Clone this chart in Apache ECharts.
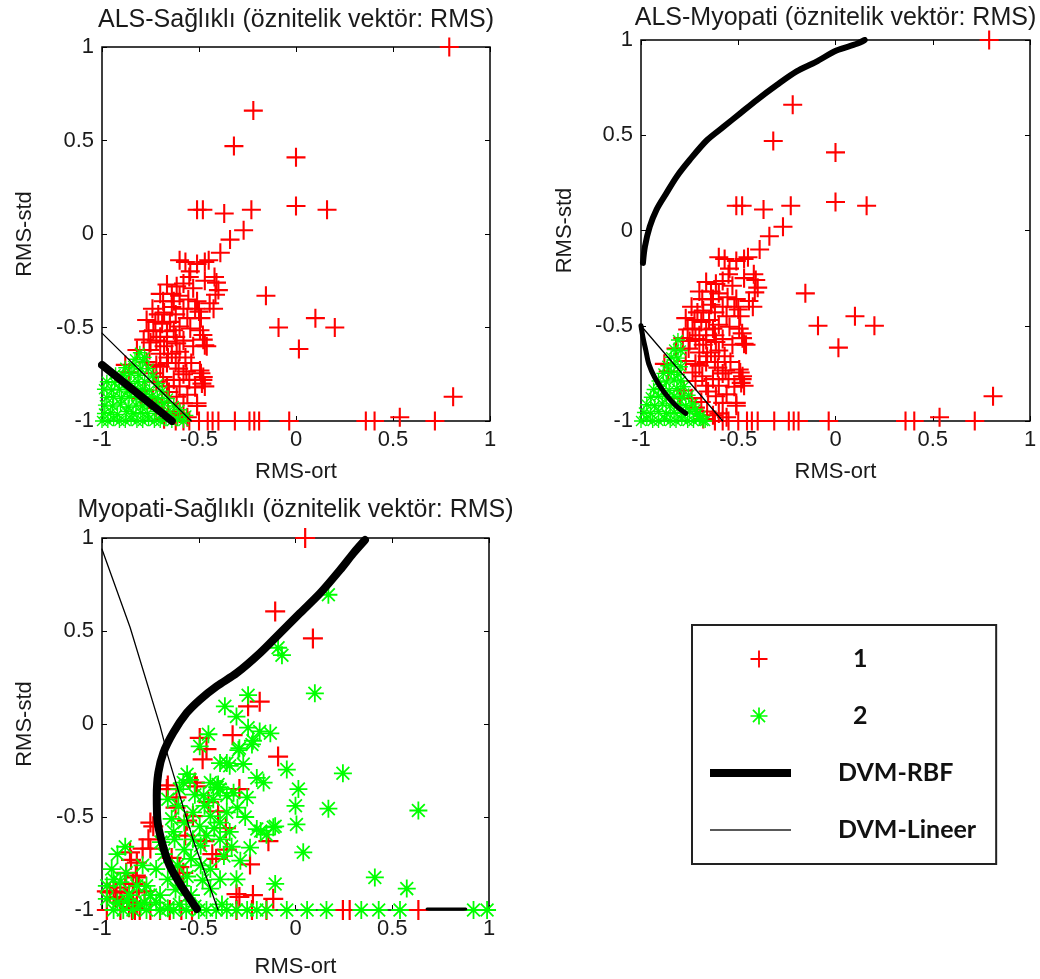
<!DOCTYPE html>
<html lang="tr">
<head>
<meta charset="UTF-8">
<title>DVM sınıflandırma - öznitelik vektör: RMS</title>
<style>
  html, body { margin: 0; padding: 0; background: #fff; }
  #main { width: 1040px; height: 979px; }
</style>
</head>
<body>
<div id="main"></div>
<script src="https://cdn.jsdelivr.net/npm/echarts@6/dist/echarts.min.js"></script>
<script>
// eksen tikleri (her iki eksen, üç grafik)
var ticks = [-1, -0.5, 0, 0.5, 1];
var xName = 'RMS-ort';
var yName = 'RMS-std';
var titles = [
  'ALS-Sağlıklı (öznitelik vektör: RMS)',
  'ALS-Myopati (öznitelik vektör: RMS)',
  'Myopati-Sağlıklı (öznitelik vektör: RMS)'
];
var legendNames = ['1', '2', 'DVM-RBF', 'DVM-Lineer'];

// ALS örnekleri (sınıf 1) - ilk iki grafikte aynı
var alsPts = [
  [0.79, 1.0], [-0.22, 0.66], [-0.32, 0.47], [0.0, 0.41], [0.0, 0.15], [0.16, 0.13],
  [-0.23, 0.13], [-0.37, 0.11], [-0.51, 0.13], [-0.48, 0.13], [-0.27, 0.02], [-0.34, -0.03],
  [-0.39, -0.10], [-0.60, -0.14], [-0.57, -0.15], [-0.51, -0.16], [-0.47, -0.15], [-0.45, -0.14],
  [-0.155, -0.33], [-0.09, -0.50], [0.10, -0.45], [0.20, -0.50], [0.015, -0.615], [0.81, -0.87],
  [-0.50, -1], [-0.455, -1], [-0.43, -1], [-0.40, -1], [-0.315, -1], [-0.24, -1], [-0.215, -1],
  [-0.19, -1], [-0.035, -1], [0.36, -1], [0.405, -1], [0.535, -0.98], [0.716, -1],
  [-0.51, -0.92], [-0.49, -0.745], [-0.48, -0.78], [-0.47, -0.815], [-0.47, -0.595], [-0.48, -0.54],
  [-0.55, -0.23], [-0.545, -0.20], [-0.42, -0.23], [-0.41, -0.26], [-0.40, -0.30], [-0.415, -0.325],
  [-0.665, -0.27], [-0.615, -0.28], [-0.58, -0.265], [-0.70, -0.32], [-0.64, -0.32], [-0.685, -0.36],
  [-0.63, -0.36], [-0.555, -0.35], [-0.51, -0.36], [-0.50, -0.415], [-0.445, -0.37], [-0.425, -0.40],
  [-0.77, -0.46], [-0.725, -0.47], [-0.69, -0.48], [-0.65, -0.47], [-0.60, -0.495], [-0.545, -0.505],
  [-0.735, -0.515], [-0.665, -0.52], [-0.63, -0.515], [-0.495, -0.515], [-0.478, -0.565], [-0.46, -0.60],
  [-0.785, -0.565], [-0.72, -0.57], [-0.665, -0.575], [-0.615, -0.585], [-0.82, -0.62], [-0.755, -0.62],
  [-0.70, -0.64], [-0.64, -0.64], [-0.60, -0.63], [-0.77, -0.685], [-0.72, -0.70], [-0.665, -0.69],
  [-0.605, -0.72], [-0.565, -0.735], [-0.495, -0.73], [-0.478, -0.765], [-0.485, -0.80], [-0.735, -0.745],
  [-0.685, -0.765], [-0.63, -0.78], [-0.665, -0.815], [-0.60, -0.815], [-0.51, -0.905], [-0.615, -0.87],
  [-0.58, -0.905], [-0.58, -0.40], [-0.62, -0.43], [-0.68, -0.42], [-0.56, -0.45], [-0.74, -0.40],
  [-0.53, -0.60], [-0.57, -0.66], [-0.54, -0.69], [-0.66, -0.95], [-0.63, -0.97], [-0.60, -0.96],
  [-0.56, -0.98], [-0.68, -0.99], [-0.62, -1], [-0.58, -1], [-0.55, -1], [-0.88, -0.70],
  [-0.86, -0.74], [-0.78, -0.84], [-0.80, -0.88], [-0.74, -0.88], [-0.72, -0.93],
  [-0.70, -0.55], [-0.68, -0.60], [-0.62, -0.55], [-0.58, -0.57], [-0.66, -0.66], [-0.62, -0.69],
  [-0.58, -0.75], [-0.55, -0.78], [-0.52, -0.82], [-0.56, -0.86], [-0.70, -0.71], [-0.75, -0.58],
  [-0.76, -0.52], [-0.71, -0.43], [-0.64, -0.39], [-0.60, -0.33], [-0.53, -0.29], [-0.47, -0.25],
  [-0.49, -0.45], [-0.52, -0.40], [-0.72, -0.79], [-0.69, -0.90], [-0.655, -0.845]
];

// Sağlıklı örnekleri (sınıf 2), ALS-Sağlıklı
var saglikliPts1 = [
  [-1.0, -1], [-0.97, -1], [-0.94, -0.99], [-0.91, -1], [-0.88, -1], [-0.85, -0.99], [-0.82, -1],
  [-0.79, -1], [-0.76, -0.99], [-0.73, -1], [-0.70, -1], [-0.67, -0.99], [-0.64, -1], [-0.61, -0.99],
  [-0.58, -1], [-0.99, -0.96], [-0.955, -0.955], [-0.92, -0.965], [-0.875, -0.95], [-0.84, -0.96],
  [-0.80, -0.955], [-0.765, -0.96], [-0.72, -0.95], [-0.685, -0.96], [-0.65, -0.955], [-0.985, -0.915],
  [-0.945, -0.92], [-0.905, -0.91], [-0.865, -0.925], [-0.825, -0.915], [-0.79, -0.92], [-0.75, -0.91],
  [-0.71, -0.92], [-0.68, -0.905], [-0.975, -0.875], [-0.94, -0.87], [-0.90, -0.88], [-0.86, -0.87],
  [-0.82, -0.875], [-0.78, -0.86], [-0.745, -0.87], [-0.715, -0.875], [-0.99, -0.83], [-0.95, -0.835],
  [-0.91, -0.83], [-0.87, -0.84], [-0.83, -0.825], [-0.79, -0.83], [-0.755, -0.835], [-0.975, -0.79],
  [-0.935, -0.795], [-0.895, -0.785], [-0.855, -0.80], [-0.815, -0.79], [-0.78, -0.79], [-0.93, -0.75],
  [-0.89, -0.755], [-0.85, -0.745], [-0.81, -0.755], [-0.88, -0.715], [-0.84, -0.705], [-0.80, -0.72],
  [-0.83, -0.67], [-0.79, -0.68], [-0.805, -0.635], [-0.78, -0.66], [-0.76, -0.72], [-0.74, -0.76],
  [-0.71, -0.80], [-0.69, -0.84], [-0.66, -0.88], [-0.63, -0.92], [-0.60, -0.94], [-0.565, -0.97]
];

// Myopati örnekleri (sınıf 2), ALS-Myopati
var myopatiPts2 = [
  [-1.0, -1], [-0.97, -0.99], [-0.94, -1], [-0.91, -1], [-0.88, -0.99], [-0.85, -1], [-0.82, -1],
  [-0.79, -0.99], [-0.76, -1], [-0.73, -1], [-0.70, -0.99], [-0.67, -1], [-0.985, -0.955], [-0.95, -0.96],
  [-0.91, -0.95], [-0.87, -0.96], [-0.83, -0.955], [-0.79, -0.96], [-0.75, -0.95], [-0.71, -0.96],
  [-0.97, -0.915], [-0.93, -0.92], [-0.89, -0.91], [-0.85, -0.92], [-0.81, -0.915], [-0.77, -0.92],
  [-0.735, -0.91], [-0.95, -0.875], [-0.91, -0.87], [-0.87, -0.88], [-0.83, -0.87], [-0.79, -0.875],
  [-0.755, -0.865], [-0.935, -0.835], [-0.895, -0.83], [-0.855, -0.84], [-0.815, -0.83], [-0.78, -0.82],
  [-0.91, -0.79], [-0.87, -0.795], [-0.83, -0.785], [-0.795, -0.79], [-0.885, -0.75], [-0.845, -0.745],
  [-0.81, -0.755], [-0.865, -0.71], [-0.83, -0.705], [-0.795, -0.715], [-0.845, -0.665], [-0.81, -0.67],
  [-0.83, -0.625], [-0.795, -0.63], [-0.81, -0.575], [-0.72, -0.94], [-0.695, -0.975], [-0.68, -1]
];

// Myopati örnekleri (sınıf 1), Myopati-Sağlıklı
var myopatiPts3 = [
  [0.05, 1.0], [-0.105, 0.605], [0.09, 0.46], [-0.185, 0.12], [-0.245, 0.095], [-0.325, -0.06],
  [-0.495, -0.075], [-0.46, -0.135], [-0.48, -0.19], [-0.09, -0.175], [-0.29, -0.35], [-0.66, -0.33],
  [-0.615, -0.395], [-0.51, -0.335], [-0.665, -0.35], [-0.53, -0.495], [-0.52, -0.315], [-0.75, -0.53],
  [-0.735, -0.55], [-0.76, -0.62], [-0.75, -0.67], [-0.14, -0.63], [-0.235, -0.755], [-0.355, -0.675],
  [-0.41, -0.725], [-0.855, -0.69], [-0.82, -0.745], [-0.875, -0.80], [-0.82, -0.825], [-0.84, -0.86],
  [-0.79, -0.67], [-0.85, -0.73], [-0.825, -0.815], [-0.81, -0.87], [-0.84, -0.905], [-0.94, -0.90],
  [-0.975, -0.90], [-0.905, -0.88], [-0.96, -0.905], [-0.925, -0.905], [-0.29, -0.93], [-0.22, -0.92],
  [-0.115, -0.94], [-0.305, -0.915], [-0.87, -0.94], [-0.84, -0.96], [-0.83, -0.99], [-0.82, -0.97],
  [-0.975, -1], [-0.905, -1], [-0.845, -1], [-0.83, -1], [-0.805, -1], [-0.75, -1], [-0.70, -1],
  [-0.65, -1], [-0.59, -1], [-0.535, -1], [-0.305, -1], [-0.225, -1], [-0.15, -1], [0.245, -1],
  [0.28, -1], [0.635, -1], [-0.58, -0.80], [-0.60, -0.77], [-0.64, -0.72], [-0.57, -0.60],
  [-0.45, -0.42], [-0.40, -0.47], [-0.36, -0.56], [-0.56, -0.52], [-0.47, -0.63], [-0.43, -0.70],
  [-0.62, -0.45], [-0.90, -0.96], [-0.93, -0.93], [-0.86, -0.985], [-0.88, -0.86], [-0.78, -0.90]
];

// Sağlıklı örnekleri (sınıf 2), Myopati-Sağlıklı
var saglikliPts3 = [
  [0.17, 0.695], [-0.09, 0.41], [-0.07, 0.37], [0.10, 0.165], [-0.245, 0.155], [-0.365, 0.095],
  [-0.305, 0.04], [-0.245, -0.02], [-0.185, -0.04], [-0.13, -0.05], [-0.45, -0.055], [-0.495, -0.12],
  [-0.29, -0.13], [-0.225, -0.11], [-0.39, -0.21], [-0.34, -0.225], [-0.27, -0.215], [-0.045, -0.245],
  [0.245, -0.265], [-0.56, -0.27], [-0.20, -0.29], [-0.165, -0.315], [-0.44, -0.315], [-0.405, -0.34],
  [-0.355, -0.385], [-0.32, -0.37], [-0.25, -0.395], [0.015, -0.35], [0.0, -0.44], [0.17, -0.455],
  [0.635, -0.465], [0.005, -0.54], [-0.105, -0.55], [-0.18, -0.575], [-0.15, -0.595], [0.04, -0.69],
  [-0.235, -0.665], [-0.285, -0.735], [-0.305, -0.835], [-0.105, -0.86], [0.41, -0.825], [0.575, -0.885],
  [-0.355, -0.21], [-0.295, -0.14], [-0.22, -0.09], [-0.58, -0.315], [-0.39, -0.35], [-0.425, -0.405],
  [-0.475, -0.385], [-0.66, -0.405], [-0.605, -0.44], [-0.64, -0.51], [-0.575, -0.53], [-0.53, -0.475],
  [-0.495, -0.55], [-0.44, -0.495], [-0.39, -0.53], [-0.355, -0.475], [-0.20, -0.565], [-0.115, -0.555],
  [-0.695, -0.635], [-0.625, -0.62], [-0.575, -0.675], [-0.54, -0.725], [-0.49, -0.76], [-0.61, -0.76],
  [-0.66, -0.835], [-0.59, -0.87], [-0.54, -0.92], [-0.79, -0.76], [-0.875, -0.80], [-0.905, -0.85],
  [-0.77, -0.87], [-0.75, -0.92], [-0.70, -0.92], [-0.44, -0.885], [-0.39, -0.835], [-0.44, -0.78],
  [-0.53, -0.62], [-0.46, -0.60], [-0.39, -0.62], [-0.49, -0.655], [-0.975, -0.87], [-0.94, -0.835],
  [-0.975, -0.94], [-0.92, -0.70], [-0.88, -0.66], [-0.95, -0.78], [-0.545, -0.30], [-0.40, -0.325],
  [-0.60, -0.35], [-0.52, -0.38], [-0.47, -0.44], [-0.42, -0.56], [-0.34, -0.58], [-0.30, -0.45],
  [-0.26, -0.50], [-0.33, -0.66], [-0.37, -0.71], [-0.63, -0.58], [-0.68, -0.70], [-0.72, -0.78],
  [-0.62, -0.89], [-0.56, -0.82], [-0.48, -0.84], [-0.82, -0.87], [-0.86, -0.92], [-0.92, -0.96],
  [-0.78, -0.96],
  [-0.94, -1], [-0.89, -1], [-0.84, -1], [-0.77, -1], [-0.70, -1], [-0.63, -1], [-0.565, -1],
  [-0.46, -1], [-0.41, -1], [-0.355, -1], [-0.305, -1], [-0.25, -1], [-0.20, -1], [-0.15, -1],
  [-0.045, -1], [0.06, -1], [0.16, -1], [0.34, -1], [0.43, -1], [0.54, -1], [0.92, -1], [0.99, -1],
  [-0.50, -1], [-0.52, -0.98], [-0.60, -0.97], [-0.80, -0.97], [-0.87, -0.95], [-0.72, -0.96],
  [-0.66, -0.99], [-0.38, -0.97]
];

// karar sınırları (DVM)
var rbf1 = [[-1, -0.70], [-0.64, -1]];
var lin1 = [[-1, -0.53], [-0.54, -1]];
var rbf2Arc = [
  [-0.99, -0.17], [-0.98, -0.085], [-0.955, 0.02], [-0.92, 0.11], [-0.87, 0.195], [-0.815, 0.285],
  [-0.75, 0.37], [-0.66, 0.475], [-0.575, 0.545], [-0.49, 0.615], [-0.405, 0.685], [-0.30, 0.765],
  [-0.20, 0.835], [-0.10, 0.885], [0.005, 0.945], [0.11, 0.98], [0.15, 1.0]
];
var rbf2Low = [
  [-1, -0.50], [-0.99, -0.56], [-0.975, -0.63], [-0.96, -0.70], [-0.93, -0.77], [-0.88, -0.85],
  [-0.82, -0.92], [-0.77, -0.96]
];
var lin2 = [[-1, -0.50], [-0.58, -1]];
var rbf3 = [
  [-0.51, -0.995], [-0.58, -0.887], [-0.65, -0.762], [-0.69, -0.637], [-0.714, -0.512], [-0.717, -0.387],
  [-0.709, -0.262], [-0.683, -0.155], [-0.632, -0.047], [-0.562, 0.06], [-0.494, 0.131], [-0.407, 0.203],
  [-0.304, 0.274], [-0.183, 0.382], [-0.08, 0.489], [0.023, 0.596], [0.127, 0.703], [0.23, 0.828],
  [0.299, 0.918], [0.359, 0.989]
];
var rbf3Edge = [[0.68, -0.995], [0.88, -0.995]];
var lin3 = [[-1, 0.94], [-0.855, 0.52], [-0.70, -0.01], [-0.66, -0.17], [-0.53, -0.62], [-0.40, -1]];

var RED = '#ff0000', GREEN = '#00ff00', INK = '#1a1a1a';
var axisFont = 'Liberation Sans, Arial, sans-serif';

// MATLAB '+' ve '*' işaretleri
var plusBody = 'M-1.1,-10L1.1,-10L1.1,-1.1L10,-1.1L10,1.1L1.1,1.1L1.1,10L-1.1,10L-1.1,1.1L-10,1.1L-10,-1.1L-1.1,-1.1Z';
var starBody = 'M-1,-10L1,-10L1,10L-1,10Z M-10,-1L10,-1L10,1L-10,1Z ' +
  'M-6.4,-7.8L7.8,6.4L6.4,7.8L-7.8,-6.4Z M6.4,-7.8L7.8,-6.4L-6.4,7.8L-7.8,6.4Z';
var plusPath = 'path://' + plusBody;
var starPath = 'path://' + starBody;

var panels = [
  { left: 102, top: 47, width: 388, height: 374, titleY: 20, xGap: 40, yGap: 66 },
  { left: 641, top: 40, width: 389, height: 381, titleY: 18, xGap: 40, yGap: 65 },
  { left: 102, top: 538, width: 387, height: 373, titleY: 510, xGap: 46, yGap: 66 }
];

var myChart = echarts.init(document.getElementById('main'), null, { renderer: 'canvas' });

var grids = [], xAxes = [], yAxes = [], titleList = [];
panels.forEach(function (p, i) {
  grids.push({ left: p.left, top: p.top, width: p.width, height: p.height,
    show: true, borderColor: '#000', borderWidth: 1.5, containLabel: false });
  titleList.push({ text: titles[i], left: p.left + p.width / 2, top: p.titleY, padding: 0,
    textAlign: 'center', textVerticalAlign: 'middle',
    textStyle: { fontFamily: axisFont, fontSize: 25, fontWeight: 'normal', color: INK } });
  var common = { gridIndex: i, type: 'value', min: ticks[0], max: ticks[ticks.length - 1],
    interval: ticks[1] - ticks[0], splitLine: { show: false },
    axisLine: { show: false, onZero: false },
    axisTick: { show: true, inside: true, length: 5, lineStyle: { color: '#000', width: 1 } } };
  xAxes.push(Object.assign({}, common, { position: 'bottom', name: xName, nameLocation: 'middle',
    nameGap: p.xGap, nameTextStyle: { fontFamily: axisFont, fontSize: 22, color: INK },
    axisLabel: { margin: 8, fontFamily: axisFont, fontSize: 22, color: INK } }));
  xAxes.push(Object.assign({}, common, { position: 'top', axisLabel: { show: false } }));
  yAxes.push(Object.assign({}, common, { position: 'left', name: yName, nameLocation: 'middle',
    nameGap: p.yGap, nameTextStyle: { fontFamily: axisFont, fontSize: 22, color: INK },
    axisLabel: { margin: 8, fontFamily: axisFont, fontSize: 22, color: INK } }));
  yAxes.push(Object.assign({}, common, { position: 'right', axisLabel: { show: false } }));
});

function scatter(name, data, gi, symbol, size, color) {
  return { name: name, type: 'scatter', xAxisIndex: gi * 2, yAxisIndex: gi * 2, data: data,
    symbol: symbol, symbolSize: size, clip: false, itemStyle: { color: color, opacity: 1 }, z: 3 };
}
function boundary(name, data, gi, width, smooth) {
  return { name: name, type: 'line', xAxisIndex: gi * 2, yAxisIndex: gi * 2, data: data,
    symbol: 'none', showSymbol: false, smooth: smooth || false, z: 5,
    itemStyle: { color: '#000' }, lineStyle: { color: '#000', width: width, cap: 'round', join: 'round' } };
}

var option = {
  animation: false,
  backgroundColor: '#fff',
  title: titleList,
  grid: grids,
  xAxis: xAxes,
  yAxis: yAxes,
  legend: {
    orient: 'vertical', left: 692, top: 625, padding: [19, 20, 19, 18],
    itemWidth: 81, itemHeight: 17, itemGap: 27, borderColor: '#222', borderWidth: 2,
    backgroundColor: '#fff', selectedMode: false,
    textStyle: { fontFamily: 'Lato, Open Sans, sans-serif', fontWeight: 'bold', fontSize: 25,
      color: '#111', lineHeight: 30,
      rich: {
        n: { padding: [0, 0, 0, 57], fontFamily: 'Lato, sans-serif', fontWeight: 'bold', fontSize: 25, lineHeight: 30, color: '#111' },
        t: { padding: [0, 0, 0, 42], fontFamily: 'Lato, sans-serif', fontWeight: 'bold', fontSize: 25, lineHeight: 30, color: '#111' }
      } },
    formatter: function (name) {
      return name.length === 1 ? '{n|' + name + '}' : '{t|' + name + '}';
    },
    data: [
      { name: legendNames[0], icon: 'path://M-30,0L-30,0' + plusBody, itemStyle: { color: RED, borderWidth: 0 } },
      { name: legendNames[1], icon: 'path://M-30,0L-30,0' + starBody, itemStyle: { color: GREEN, borderWidth: 0 } },
      { name: legendNames[2], icon: 'path://M0,0L81,0L81,8L0,8Z', itemStyle: { color: '#000', borderWidth: 0 } },
      { name: legendNames[3], icon: 'path://M0,0L81,0L81,1.6L0,1.6Z', itemStyle: { color: '#222', borderWidth: 0 } }
    ]
  },
  series: [
    scatter('1', alsPts, 0, plusPath, 19, RED),
    scatter('2', saglikliPts1, 0, starPath, 14, GREEN),
    boundary('DVM-RBF', rbf1, 0, 8),
    boundary('DVM-Lineer', lin1, 0, 1.3),

    scatter('1', alsPts, 1, plusPath, 19, RED),
    scatter('2', myopatiPts2, 1, starPath, 14, GREEN),
    boundary('DVM-RBF', rbf2Arc, 1, 6, 0.3),
    boundary('DVM-RBF', rbf2Low, 1, 5, 0.3),
    boundary('DVM-Lineer', lin2, 1, 1.3),

    scatter('1', myopatiPts3, 2, plusPath, 20, RED),
    scatter('2', saglikliPts3, 2, starPath, 18, GREEN),
    boundary('DVM-RBF', rbf3, 2, 8, 0.3),
    boundary('DVM-RBF', rbf3Edge, 2, 3),
    boundary('DVM-Lineer', lin3, 2, 1.3)
  ]
};

myChart.setOption(option);
</script>
</body>
</html>
